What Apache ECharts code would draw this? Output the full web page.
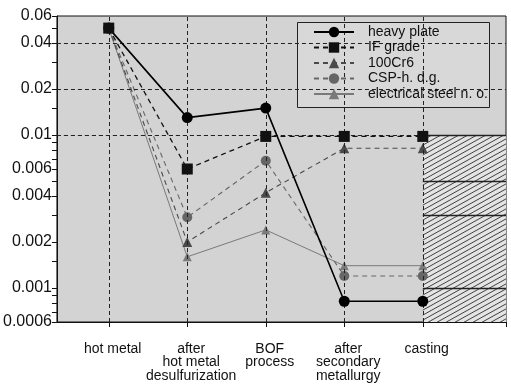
<!DOCTYPE html>
<html><head><meta charset="utf-8">
<script src="https://cdn.jsdelivr.net/npm/echarts@6/dist/echarts.min.js"></script>
<style>html,body{margin:0;padding:0;background:#fff}#c{width:511px;height:386px}</style>
</head><body><div id="c"></div>
<script>
// ---- data ----
const categories = ['hot metal', 'after\nhot metal\ndesulfurization', 'BOF\nprocess', 'after\nsecondary\nmetallurgy', 'casting'];
const seriesNames = ['heavy plate', 'IF grade', '100Cr6', 'CSP-h. d.g.', 'electrical steel n. o.'];
const heavyPlate = [0.05, 0.013, 0.015, 0.00082, 0.00082];
const ifGrade    = [0.05, 0.006, 0.0098, 0.0098, 0.0098];
const cr6        = [0.05, 0.002, 0.0042, 0.0082, 0.0082];
const cspHdg     = [0.05, 0.0029, 0.0068, 0.0012, 0.0012];
const electrical = [0.05, 0.0016, 0.0024, 0.0014, 0.0014];
const yLabelValues = [0.06, 0.04, 0.02, 0.01, 0.006, 0.004, 0.002, 0.001, 0.0006];
const yLabelTexts  = ['0.06', '0.04', '0.02', '0.01', '0.006', '0.004', '0.002', '0.001', '0.0006'];
const yTickValues  = [0.06, 0.05, 0.04, 0.03, 0.02, 0.015, 0.01, 0.009, 0.008, 0.007, 0.006, 0.005, 0.004, 0.003, 0.002, 0.0015, 0.001, 0.0009, 0.0008, 0.0007, 0.0006];
const yGridValues  = [0.04, 0.02, 0.01, 0.008, 0.006, 0.004, 0.002, 0.001, 0.0008];
const hatchLevels  = [0.01, 0.005, 0.003, 0.001];
const hatchFromCategory = 4;   // index of 'casting'
const hatchTop = 0.01;

// ---- layout constants (x positions: category index + 1) ----
const X_MIN = 0.34, X_MAX = 6.06, Y_MIN = 0.0006, Y_MAX = 0.06;
const LABEL_SHIFT = 0.05;  // labels sit slightly right of their ticks in the reference
const FONT = '"Liberation Sans", Arial, sans-serif';
const catPos = categories.map((c, i) => i + 1);

function hatchPattern() {
  const c = document.createElement('canvas');
  c.width = 9; c.height = 5;
  const g = c.getContext('2d');
  g.fillStyle = '#e4e4e4'; g.fillRect(0, 0, 9, 5);
  g.strokeStyle = '#2e2e2e'; g.lineWidth = 0.9;
  g.beginPath();
  for (const off of [-5, 0, 5]) { g.moveTo(-9, 10 + off); g.lineTo(18, -5 + off); }
  g.stroke();
  return c;
}
const toPairs = arr => arr.map((v, i) => [catPos[i], v]);

const chart = echarts.init(document.getElementById('c'), null, {renderer: 'canvas'});
const styles = [
  {color: '#000000', type: 'solid', width: 1.6, symbol: 'circle', size: 11, z: 5},
  {color: '#111111', type: [5, 4], width: 1.3, symbol: 'rect', size: 11, z: 7},
  {color: '#4a4a4a', type: [5, 4], width: 1.1, symbol: 'triangle', size: 10, z: 4},
  {color: '#666666', type: [5, 4], width: 1.1, symbol: 'circle', size: 10, z: 4},
  {color: '#7a7a7a', type: 'solid', width: 1.0, symbol: 'triangle', size: 9, z: 3}
];
const datasets = [heavyPlate, ifGrade, cr6, cspHdg, electrical];

const dataSeries = datasets.map((d, i) => ({
  name: seriesNames[i], type: 'line', data: toPairs(d), z: styles[i].z,
  symbol: styles[i].symbol, symbolSize: styles[i].size,
  itemStyle: {color: styles[i].color},
  lineStyle: {color: styles[i].color, type: styles[i].type, width: styles[i].width},
  emphasis: {disabled: true}
}));

const option = {
  animation: false,
  backgroundColor: '#ffffff',
  textStyle: {fontFamily: FONT},
  grid: {left: 54, top: 16, right: 5, bottom: 64, show: true, backgroundColor: '#d3d3d3', borderColor: '#111', borderWidth: 1},
  graphic: [{
    type: 'rect', z: 3, silent: true,
    shape: {x: 297.5, y: 22.5, width: 192, height: 85},
    style: {fill: '#d8d8d8', stroke: '#222', lineWidth: 1}
  }],
  legend: {
    left: 297, top: 22, orient: 'vertical', z: 10,
    data: seriesNames,
    padding: [3, 5, 6, 16],
    itemWidth: 40, itemHeight: 13, itemGap: 1.5,
    textStyle: {fontSize: 14, color: '#111', fontFamily: FONT, lineHeight: 13, padding: [0, 0, 0, 9]}
  },
  xAxis: {
    type: 'value', min: X_MIN, max: X_MAX,
    axisLine: {show: true, onZero: false, lineStyle: {color: '#111', width: 1}},
    axisTick: {show: true, inside: false, length: 5, customValues: catPos.concat([X_MAX]), lineStyle: {color: '#111'}},
    axisLabel: {customValues: catPos.map(p => p + LABEL_SHIFT), formatter: v => categories[Math.round(v) - 1],
      fontSize: 14, color: '#111', lineHeight: 13.5, margin: 20, align: 'center',
      showMinLabel: true, showMaxLabel: true, hideOverlap: false},
    splitLine: {show: false}
  },
  yAxis: {
    type: 'log', logBase: 10, min: Y_MIN, max: Y_MAX,
    axisLine: {show: true, onZero: false, lineStyle: {color: '#111', width: 1}},
    axisTick: {show: true, length: 5, customValues: yTickValues, lineStyle: {color: '#111'}},
    axisLabel: {customValues: yLabelValues, fontSize: 16, color: '#111', margin: 5, hideOverlap: false,
      formatter: v => {
        let best = 0;
        yLabelValues.forEach((t, i) => { if (Math.abs(Math.log(t / v)) < Math.abs(Math.log(yLabelValues[best] / v))) best = i; });
        return yLabelTexts[best];
      }},
    splitLine: {show: false}, minorTick: {show: false}
  },
  series: [
    {
      type: 'line', data: [], z: 1, silent: true,
      markLine: {
        silent: true, symbol: 'none', label: {show: false}, animation: false,
        lineStyle: {color: '#222', type: [4, 3], width: 1},
        emphasis: {disabled: true},
        data: catPos.map(x => ({xAxis: x})).concat(yGridValues.map(y => ({yAxis: y})))
      }
    },
    {
      type: 'line', data: [], z: 2, silent: true,
      markArea: {
        silent: true, label: {show: false},
        itemStyle: {color: {image: hatchPattern(), repeat: 'repeat'}, borderWidth: 0},
        data: [[{coord: [catPos[hatchFromCategory], hatchTop]}, {coord: [X_MAX, Y_MIN]}]]
      }
    },
    {
      type: 'line', data: [], z: 2.5, silent: true,
      markLine: {
        silent: true, symbol: 'none', label: {show: false}, animation: false,
        lineStyle: {color: '#222', type: 'solid', width: 1.3},
        emphasis: {disabled: true},
        data: hatchLevels.map(y => [{coord: [catPos[hatchFromCategory], y]}, {coord: [X_MAX, y]}])
      }
    }
  ].concat(dataSeries)
};
chart.setOption(option);
</script>
</body></html>
